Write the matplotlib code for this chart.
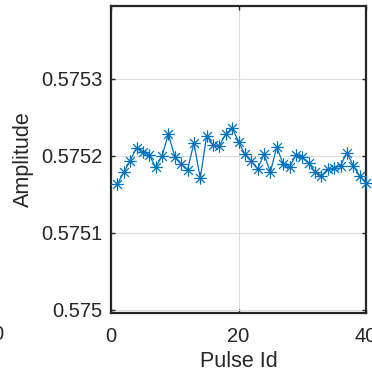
import numpy as np
import matplotlib
matplotlib.use("Agg")
import matplotlib.pyplot as plt
from matplotlib.path import Path

plt.rcParams['font.family'] = ['Liberation Sans', 'DejaVu Sans']

pulse_id = np.arange(1, 41)
amplitude = np.array([
    0.5751632, 0.5751788, 0.5751935, 0.5752108, 0.5752056,
    0.5752013, 0.5751853, 0.5751996, 0.5752286, 0.5751991,
    0.5751892, 0.5751818, 0.5752169, 0.5751710, 0.5752264,
    0.5752143, 0.5752134, 0.5752282, 0.5752368, 0.5752186,
    0.5752022, 0.5751935, 0.5751831, 0.5752022, 0.5751788,
    0.5752117, 0.5751896, 0.5751853, 0.5752013, 0.5751983,
    0.5751905, 0.5751796, 0.5751740, 0.5751831, 0.5751840,
    0.5751874, 0.5752043, 0.5751874, 0.5751740, 0.5751653,
])
yticks = [0.575, 0.5751, 0.5752, 0.5753]
ytick_labels = ["0.575", "0.5751", "0.5752", "0.5753"]
xticks = [0, 20, 40]

# asterisk marker: plus and cross together
d = 0.7071
asterisk = Path([(-1, 0), (1, 0), (0, -1), (0, 1),
                 (-d, -d), (d, d), (-d, d), (d, -d)],
                [Path.MOVETO, Path.LINETO] * 4)

fig = plt.figure(figsize=(3.72, 3.76), dpi=100)
ax = fig.add_axes([111/372, 63/376, 255/372, 307/376])

ax.plot(pulse_id, amplitude, color="#0072BD", lw=0.9, marker=asterisk,
        markersize=9, markeredgewidth=0.9, clip_on=False, zorder=3)

ax.set_xlim(0, 40)
ax.set_ylim(0.574996, 0.5753948)
ax.set_xticks(xticks)
ax.set_yticks(yticks)
ax.set_yticklabels(ytick_labels)
ax.grid(True, color="#dcdcdc", lw=0.8)
ax.set_axisbelow(True)

for s in ax.spines.values():
    s.set_linewidth(1.6)
    s.set_color("#262626")
ax.tick_params(direction="in", length=3, width=1, colors="#262626",
               labelsize=14.5, top=True, right=True)
ax.tick_params(axis="x", pad=10)
ax.tick_params(axis="y", pad=6)

ax.set_xlabel("Pulse Id", fontsize=15.5, color="#262626", labelpad=4)
ax.set_ylabel("Amplitude", fontsize=15.5, color="#262626", labelpad=5)

# leftover tick label of the neighbouring panel
fig.text(-2/372, 1 - 335/376, "0", fontsize=14.5, color="#262626",
         ha="center", va="center")

fig.savefig("out.png", dpi=100)
